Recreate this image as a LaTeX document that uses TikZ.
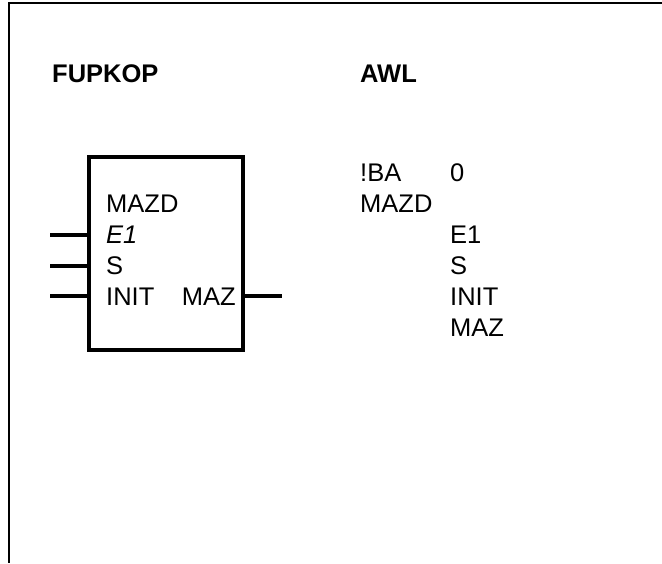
\documentclass[tikz,border=0pt]{standalone}
\usepackage{fontspec}
\setmainfont{Liberation Sans}
\usetikzlibrary{positioning,calc}

\begin{document}
\begin{tikzpicture}[x=1pt, y=-1pt,
    txt/.style={inner sep=0pt, anchor=base west, font=\fontsize{25.5}{31}\selectfont},
    head/.style={txt, font=\fontsize{25.5}{31}\selectfont\bfseries},
    fbox/.style={draw, line width=3.6pt, minimum width=154pt, minimum height=193pt, inner sep=0pt},
    pin/.style={line width=3.6pt}
]
\useasboundingbox (0,0) rectangle (662,563);
% frame
\draw[line width=1.5pt] (662,3) -- (9,3) -- (9,563);

% headings
\node[head] (hfup) at (52,82) {FUPKOP};
\node[head] (hawl) at (360,82) {AWL};

% function block
\node[fbox] (fb) at (166,253.5) {};
\node[txt] (lname) at (106,212) {MAZD};
\node[txt] (le1) at (106,243) {\itshape E1};
\node[txt] (ls) at (106,274) {S};
\node[txt] (linit) at (106,305) {INIT};
\node[txt, anchor=base east] (lmaz) at (236,305) {MAZ};

\coordinate (ie1) at (50,235);
\coordinate (is) at (50,266);
\coordinate (iinit) at (50,296);
\coordinate (omaz) at (282,296);
\draw[pin] (ie1) -- (fb.west |- ie1);
\draw[pin] (is) -- (fb.west |- is);
\draw[pin] (iinit) -- (fb.west |- iinit);
\draw[pin] (fb.east |- omaz) -- (omaz);

% instruction list
\node[txt] (aba) at (360,181) {!BA};
\node[txt] (azero) at (450,181) {0};
\node[txt] (aname) at (360,212) {MAZD};
\node[txt] (ae1) at (450,243) {E1};
\node[txt] (as) at (450,274) {S};
\node[txt] (ainit) at (450,305) {INIT};
\node[txt] (amaz) at (450,336) {MAZ};
\end{tikzpicture}
\end{document}
